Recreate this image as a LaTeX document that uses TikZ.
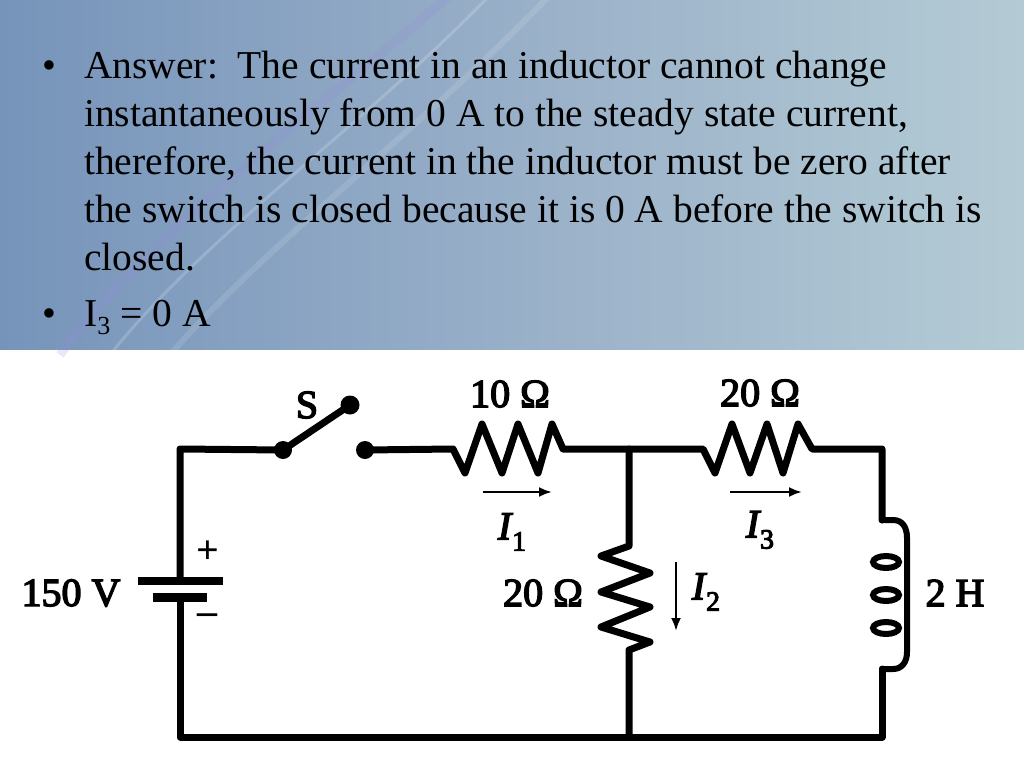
\documentclass[tikz,border=0pt]{standalone}
\usepackage{fontspec}
\setmainfont{Liberation Serif}
\newfontfamily\circfont{Liberation Serif}[FakeBold=3.5]
\newfontfamily\circitfont{Liberation Serif Italic}[FakeBold=3.5]
\usetikzlibrary{arrows.meta}
\definecolor{bgL}{RGB}{118,148,186}
\definecolor{bgM}{RGB}{152,175,200}
\definecolor{bgR}{RGB}{180,203,213}
\definecolor{swpurple}{RGB}{150,140,220}
\tikzset{
  wire/.style={line width=7pt, line join=round, line cap=round, black},
  thinarrow/.style={line width=2.4pt, -{Latex[length=13pt,width=10pt]}},
  slidetext/.style={anchor=base west, inner sep=0pt, font=\fontsize{39.5}{48}\selectfont, text=black},
  circlabel/.style={inner sep=0pt, font=\fontsize{40}{40}\circfont},
  signlabel/.style={inner sep=0pt, font=\fontsize{40}{40}\bfseries},
  dotc/.style={fill=black},
}
\newcommand{\curI}[1]{{\circitfont I}\kern0.02em\raisebox{-0.28em}{\fontsize{28}{28}\circfont #1}}
\begin{document}
\begin{tikzpicture}[x=1pt,y=-1pt]
\useasboundingbox (0,0) rectangle (1024,768);
\fill[white] (0,0) rectangle (1024,768);
% background of the slide
\shade[left color=bgL, right color=bgR, middle color=bgM] (0,0) rectangle (1024,349);
\draw[line width=9pt, swpurple, opacity=0.2] (450,-5) .. controls (330,100) and (150,230) .. (60,355);
\draw[line width=3pt, white, opacity=0.18] (490,-5) .. controls (370,120) and (200,240) .. (110,355);
\draw[line width=6pt, white, opacity=0.12] (550,-5) .. controls (420,130) and (260,250) .. (170,355);
% text
\node[slidetext] (b1) at (42,78) {•};
\node[slidetext] (t1) at (84,78) {Answer:\ \ The current in an inductor cannot change};
\node[slidetext] (t2) at (84,126) {instantaneously from 0 A to the steady state current,};
\node[slidetext] (t3) at (84,174) {therefore, the current in the inductor must be zero after};
\node[slidetext] (t4) at (84,222) {the switch is closed because it is 0 A before the switch is};
\node[slidetext] (t5) at (84,270) {closed.};
\node[slidetext] (b2) at (42,326) {•};
\node[slidetext] (t6) at (84,326) {I\raisebox{-0.22em}{\fontsize{26}{26}\selectfont 3} = 0 A};
% circuit coordinates
\coordinate (tl) at (180,449);
\coordinate (swA) at (283,450);
\coordinate (swB) at (350,405);
\coordinate (swC) at (365,450);
\coordinate (r1a) at (453,449);
\coordinate (r1b) at (563,449);
\coordinate (jt) at (629,449);
\coordinate (r3a) at (703,449);
\coordinate (r3b) at (812,449);
\coordinate (tr) at (882,449);
\coordinate (La) at (882,520);
\coordinate (Lb) at (882,669);
\coordinate (br) at (882,737);
\coordinate (jb) at (629,737);
\coordinate (bl) at (180,737);
\coordinate (batp) at (180,581);
\coordinate (batn) at (180,597);
\coordinate (r2a) at (629,546);
\coordinate (r2b) at (629,650);
% wires
\draw[wire] (batp) -- (tl) -- (swA);
\draw[wire] (swA) -- (swB);
\draw[wire] (swC) -- (r1a) -- (465,473) -- (482,424) -- (502,473) -- (518,424) -- (538,473) -- (552,424) -- (r1b) -- (jt) -- (r3a)
  -- (715,473) -- (732,424) -- (750,473) -- (767,424) -- (783,473) -- (798,424) -- (r3b) -- (tr) -- (La);
\draw[wire] (jt) -- (r2a) -- (601,556) -- (650,573) -- (601,592) -- (650,607) -- (601,627) -- (650,642) -- (r2b) -- (jb);
\draw[wire] (Lb) -- (br) -- (jb) -- (bl) -- (batn);
% inductor
\draw[line width=6pt, line cap=round] (La) -- (893,520) .. controls (903,520) and (907,528) .. (907,538) -- (907,652)
  .. controls (907,662) and (902,669) .. (893,669) -- (Lb);
\foreach \yy in {562,595,628} \draw[line width=6pt] (886,\yy) ellipse [x radius=13, y radius=6];
% battery plates
\fill (138,577) rectangle (223,585);
\fill (153,593) rectangle (207,602);
% switch dots
\fill[dotc] (swA) circle (9);
\fill[dotc] (swB) circle (9.5);
\fill[dotc] (swC) circle (9);
% current arrows
\coordinate (i1a) at (483,492);
\coordinate (i1b) at (552,492);
\coordinate (i3a) at (730,492);
\coordinate (i3b) at (802,492);
\coordinate (i2a) at (676,562);
\coordinate (i2b) at (676,631);
\draw[thinarrow] (i1a) -- (i1b);
\draw[thinarrow] (i3a) -- (i3b);
\draw[thinarrow] (i2a) -- (i2b);
% labels
\node[circlabel] (lS) at (307,405) {S};
\node[circlabel] (l10) at (510,394) {10 Ω};
\node[circlabel] (l20t) at (760,393) {20 Ω};
\node[circlabel] (lI1) at (512,532) {\curI{1}};
\node[circlabel] (lI3) at (760,530) {\curI{3}};
\node[circlabel] (l20v) at (543,593) {20 Ω};
\node[circlabel] (lI2) at (706,592) {\curI{2}};
\node[circlabel] (l150) at (71,593) {150 V};
\node[circlabel] (l2H) at (955,593) {2 H};
\node[signlabel] (lplus) at (208,552) {+};
\node[signlabel] (lminus) at (207,619) {–};
\end{tikzpicture}
\end{document}
